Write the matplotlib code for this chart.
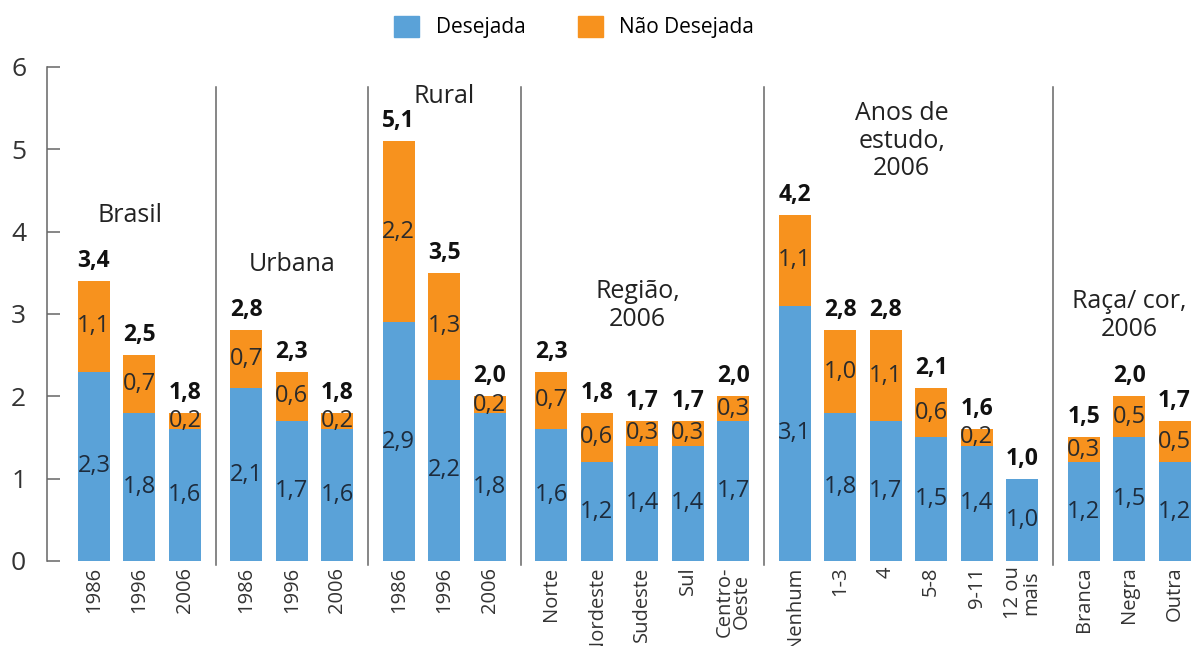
import matplotlib
matplotlib.use("Agg")
import matplotlib.pyplot as plt
from matplotlib.patches import Patch

plt.rcParams['font.family'] = ['Open Sans', 'DejaVu Sans']

# Groups and their categories
groups = ['Brasil', 'Urbana', 'Rural', 'Região,\n2006', 'Anos de\nestudo,\n2006', 'Raça/ cor,\n2006']
categories = [
    ['1986', '1996', '2006'],
    ['1986', '1996', '2006'],
    ['1986', '1996', '2006'],
    ['Norte', 'Nordeste', 'Sudeste', 'Sul', 'Centro-\nOeste'],
    ['Nenhum', '1-3', '4', '5-8', '9-11', '12 ou\nmais'],
    ['Branca', 'Negra', 'Outra'],
]

# Fecundidade desejada / não desejada
desejada = [
    [2.3, 1.8, 1.6],
    [2.1, 1.7, 1.6],
    [2.9, 2.2, 1.8],
    [1.6, 1.2, 1.4, 1.4, 1.7],
    [3.1, 1.8, 1.7, 1.5, 1.4, 1.0],
    [1.2, 1.5, 1.2],
]
nao_desejada = [
    [1.1, 0.7, 0.2],
    [0.7, 0.6, 0.2],
    [2.2, 1.3, 0.2],
    [0.7, 0.6, 0.3, 0.3, 0.3],
    [1.1, 1.0, 1.1, 0.6, 0.2, 0.0],
    [0.3, 0.5, 0.5],
]
totais = [
    [3.4, 2.5, 1.8],
    [2.8, 2.3, 1.8],
    [5.1, 3.5, 2.0],
    [2.3, 1.8, 1.7, 1.7, 2.0],
    [4.2, 2.8, 2.8, 2.1, 1.6, 1.0],
    [1.5, 2.0, 1.7],
]

azul = '#5aa2d8'
laranja = '#f7921e'
gap = 0.35
width = 0.70

def fmt(v):
    return f'{v:.1f}'.replace('.', ',')

fig = plt.figure(figsize=(11.91, 6.46), dpi=100)
ax = fig.add_axes([0.0395, 0.1316, 0.9605, 0.7647])

title_pos = [(-0.2, 4.2), (0.0, 3.6), (0.0, 5.64), (-0.1, 3.1), (-0.15, 5.1), (0.0, 2.98)]

xs_all, labels_all = [], []
i = 0
group_x = []
for g, cats in enumerate(categories):
    xs = [i + k + gap * g for k in range(len(cats))]
    i += len(cats)
    group_x.append(xs)
    xs_all += xs
    labels_all += cats
    d = desejada[g]
    n = nao_desejada[g]
    ax.bar(xs, d, width, color=azul, zorder=2)
    ax.bar(xs, n, width, bottom=d, color=laranja, zorder=2)
    for x, dv, nv, tv in zip(xs, d, n, totais[g]):
        ax.text(x, dv / 2, fmt(dv), ha='center', va='center', fontsize=17, color='#1d2b3c', zorder=3)
        if nv > 0:
            ax.text(x, dv + nv / 2, fmt(nv), ha='center', va='center', fontsize=17, color='#2b2b2b', zorder=3)
        ax.text(x, tv + 0.17, fmt(tv), ha='center', va='baseline', fontsize=16.5,
                fontweight='bold', color='#111111', zorder=3)
    cx = (xs[0] + xs[-1]) / 2 + title_pos[g][0]
    ax.text(cx, title_pos[g][1], groups[g], ha='center', va='center', fontsize=18,
            color='#222222', linespacing=1.15)

# Separators between groups
for g in range(len(group_x) - 1):
    sx = (group_x[g][-1] + group_x[g + 1][0]) / 2
    ax.plot([sx, sx], [-0.05, 5.76], color='#666666', lw=1.1, clip_on=False, zorder=1)

ax.set_xlim(-1.03, 24.11)
ax.set_ylim(0, 6)
ax.set_xticks(xs_all)
ax.set_xticklabels(labels_all, rotation=90, fontsize=14.5, color='#333333', linespacing=0.85)
ax.tick_params(axis='x', length=0, pad=4)
ax.set_yticks(range(7))
ax.tick_params(axis='y', direction='in', length=9.5, width=1.1, color='#666666',
               labelsize=19, labelcolor='#333333', pad=15)
for s in ['top', 'right', 'bottom']:
    ax.spines[s].set_visible(False)
ax.spines['left'].set_color('#666666')
ax.spines['left'].set_linewidth(1.1)

handles = [Patch(color=azul, label='Desejada'), Patch(color=laranja, label='Não Desejada')]
fig.legend(handles=handles, loc='center', bbox_to_anchor=(0.482, 0.958), ncol=2, frameon=False,
           fontsize=15, handlelength=1.2, handleheight=1.2, columnspacing=2.5, handletextpad=0.8)

fig.savefig('out.png', dpi=100)
